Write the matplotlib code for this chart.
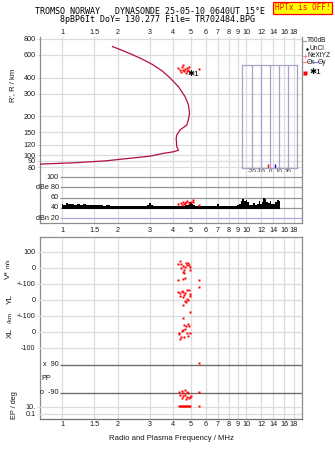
import numpy as np
import matplotlib
matplotlib.use('Agg')
import matplotlib.pyplot as plt
from matplotlib.ticker import NullLocator

plt.rcParams['font.family'] = ['Liberation Sans', 'DejaVu Sans']

W, H = 335, 451
GRID = '#dcdcdc'
SPINE = '#8c8c8c'
ECHO = '#ff0000'
TXT = '#1a1a1a'

# frequency axis
freq_ticks = [1, 1.5, 2, 3, 4, 5, 6, 7, 8, 9, 10, 12, 14, 16, 18]
freq_labels = ['1', '1.5', '2', '3', '4', '5', '6', '7', '8', '9', '10', '12', '14', '16', '18']

# virtual range trace (MHz, km)
trace_f = [1.88, 2.1, 2.4, 2.7, 3.1, 3.5, 3.85, 4.28, 4.65, 4.85, 4.91, 4.85, 4.75,
           4.37, 4.19, 4.16, 4.19, 4.28, 4.02, 3.54, 3.0, 2.44, 1.71, 1.15, 0.76]
trace_r = [697, 655, 605, 560, 505, 450, 398, 340, 284, 245, 211, 190, 171,
           157, 143, 135, 116, 109, 106, 103, 98, 95, 90, 87, 85]
range_ticks = [80, 90, 100, 120, 150, 200, 300, 400, 600, 800]

# echo range
echo_f = [4.28, 4.37, 4.46, 4.51, 4.54, 4.65, 4.75, 4.79, 4.85, 4.91, 4.95, 4.71, 4.58, 4.40, 5.54]
echo_r = [473, 458, 481, 502, 458, 467, 453, 473, 458, 481, 444, 437, 448, 444, 464]

# noise floor (dB)
noise_f = [1.00, 1.03, 1.06, 1.10, 1.14, 1.18, 1.22, 1.27, 1.32, 1.37, 1.42, 1.48, 1.55,
           1.62, 1.70, 1.78, 1.86, 1.95, 2.05, 2.15, 2.25, 2.40, 2.55, 2.70, 2.85, 2.95,
           3.00, 3.05, 3.20, 3.40, 3.60, 3.80, 4.00, 4.20, 4.50, 4.80, 5.00, 5.10, 5.20,
           5.35, 5.60, 5.90, 6.20, 6.50, 6.80, 7.00, 7.20, 7.60, 8.00, 8.40, 8.70, 9.00,
           9.20, 9.40, 9.60, 9.80, 10.0, 10.2, 10.5, 10.8, 11.0, 11.3, 11.6, 11.8, 12.0,
           12.2, 12.5, 12.7, 12.9, 13.2, 13.5, 13.8, 14.1, 14.4, 14.7, 15.0, 15.2]
noise_db = [48, 46, 49, 47, 48, 46, 47, 46, 48, 46, 46, 45, 46,
            45, 44, 45, 44, 43, 44, 43, 43, 44, 43, 44, 44, 46,
            50, 45, 44, 43, 43, 43, 44, 43, 44, 46, 51, 48, 45,
            43, 43, 43, 44, 43, 43, 47, 43, 43, 44, 43, 44, 45,
            48, 54, 57, 53, 56, 51, 46, 45, 49, 45, 48, 53, 48,
            51, 59, 57, 51, 49, 53, 48, 47, 51, 56, 55, 53]

# echo amplitude
amp_f = [4.28, 4.40, 4.51, 4.58, 4.71, 4.79, 4.91, 4.99, 5.11, 5.14, 4.46, 4.65, 5.56]
amp_db = [47.5, 49, 52, 47, 51, 53, 49, 52, 55, 51, 45.5, 49, 45.5]

# Doppler velocity V* (m/s)
vel_f = [4.37, 4.28, 4.42, 4.51, 4.71, 4.85, 4.79, 4.91, 4.95, 4.65, 4.40, 4.60,
         4.54, 4.58, 4.95, 4.28, 4.54, 4.65, 5.54]
vel_v = [46, 25, 25, 12, 33, 29, 19, 19, 8, 8, -2, -12,
         -23, -33, -12, -75, -71, -65, -75]

# echolocation YL, XL (km)
yl_f = [4.28, 4.37, 4.46, 4.54, 4.75, 4.89, 4.65, 4.95, 4.95, 4.58, 4.54, 4.37,
        4.65, 4.75, 4.85, 4.71, 4.51, 4.95, 5.54]
yl_v = [52, 46, 58, 52, 62, 62, 42, 35, 25, 31, 17, 25,
        -4, 4, 0, -10, -31, -73, 83]
xl_f = [4.51, 4.58, 4.71, 4.81, 4.89, 4.54, 4.46, 4.65, 4.32, 4.32, 4.42, 4.58,
        4.75, 4.95, 4.85, 4.37]
xl_v = [90, 44, 38, 50, 38, 12, 8, 17, -4, -15, -29, -33,
        -4, -4, -23, -46]

# polarization (deg)
pp_f = [4.32, 4.46, 4.54, 4.65, 4.75, 4.85, 4.37, 4.51, 4.65, 4.79, 4.95, 4.46,
        4.71, 4.91, 4.99, 5.54, 5.54]
pp_v = [-82, -75, -88, -71, -82, -92, -103, -109, -103, -118, -114, -124,
        -129, -122, -109, -82, 105]

# EP (deg)
ep_f = [4.32, 4.37, 4.42, 4.46, 4.51, 4.58, 4.65, 4.71, 4.79, 4.85, 4.91, 4.97, 5.54]
ep_v = [18, 22, 16, 20, 25, 17, 19, 21, 16, 23, 18, 20, 20]

# tilt indicators (deg)
tilt_x = -2
tilt_y = 5.5
tilt_ticks = [-20, -10, 0, 10, 20]

fig = plt.figure(figsize=(W / 100, H / 100), dpi=100)


def px_axes(x0, y0, x1, y1, **kw):
    return fig.add_axes([x0 / W, 1 - y1 / H, (x1 - x0) / W, (y1 - y0) / H], **kw)


def freq_axis(ax, grid=True):
    ax.set_xscale('log')
    ax.set_xlim(0.76, 20)
    ax.xaxis.set_minor_locator(NullLocator())
    ax.set_xticks(freq_ticks)
    ax.set_xticklabels(freq_labels)
    if grid:
        for f in freq_ticks:
            ax.axvline(f, color=GRID, lw=0.9, zorder=0)
    for s in ax.spines.values():
        s.set_color(SPINE)
        s.set_linewidth(0.9)
    ax.tick_params(axis='x', length=0, labelsize=5.2, colors=TXT)


def overlay(ax):
    ax.patch.set_alpha(0)
    ax.set_xscale('log')
    ax.set_xlim(0.76, 20)
    for s in ax.spines.values():
        s.set_visible(False)
    ax.tick_params(axis='x', which='both', bottom=False, labelbottom=False)
    ax.tick_params(axis='y', which='both', length=2.2, width=0.7, color=GRID,
                   labelsize=5.2, pad=1, labelcolor=TXT)


def dot(ax, x, y):
    ax.plot(x, y, 's', ms=1.9, mec='none', color=ECHO, zorder=4)


# --- range panel ---
ax_r = px_axes(40, 37, 302, 172)
freq_axis(ax_r)
ax_r.xaxis.tick_top()
ax_r.tick_params(axis='x', pad=0.5)
ax_r.spines['top'].set_visible(False)
ax_r.spines['bottom'].set_visible(False)
ax_r.set_yscale('log')
ax_r.set_ylim(73.8, 828)
ax_r.yaxis.set_minor_locator(NullLocator())
ax_r.set_yticks(range_ticks)
ax_r.set_yticklabels([str(v) for v in range_ticks])
ax_r.tick_params(axis='y', length=2.2, width=0.7, color=GRID, labelsize=5.2, pad=1,
                 labelcolor=TXT)
for r in range_ticks:
    ax_r.axhline(r, color=GRID, lw=0.9, zorder=0)
ax_r.plot(trace_f, trace_r, color='#b0103c', lw=0.9, zorder=3)
dot(ax_r, echo_f, echo_r)
ax_r.text(4.8, 425, '\u27311', fontsize=6, color='black', ha='left', va='center', zorder=5)

# tilt inset
ax_t = px_axes(242, 65, 297, 168)
ax_t.patch.set_alpha(0)
ax_t.set_xlim(-31, 30)
ax_t.set_ylim(0, 1)
ax_t.set_yticks([])
for s in ax_t.spines.values():
    s.set_color('#a4a4c4')
    s.set_linewidth(0.9)
for t in tilt_ticks:
    ax_t.axvline(t, color='#a4a4c4', lw=0.9)
ax_t.set_xticks(tilt_ticks)
ax_t.set_xticklabels([str(t) for t in tilt_ticks])
ax_t.tick_params(axis='x', length=0, labelsize=4.3, pad=0.5, colors=TXT)
ax_t.set_xlabel('Tilt / deg', fontsize=4.3, labelpad=-0.5, color=TXT)
ax_t.vlines([tilt_x], 0, 0.035, color='#ff0000', lw=1.0)
ax_t.vlines([tilt_y], 0, 0.035, color='#0000ff', lw=1.0)

# --- amplitude panel ---
ax_d = px_axes(40, 172, 302, 223)
freq_axis(ax_d)
ax_d.tick_params(axis='x', pad=3)
ax_d.spines['top'].set_visible(False)
ax_d.set_ylim(10.2, 110.4)
ax_d.set_yticks([])
db_lines = [100, 80, 60, 40, 20]
db_labels = ['100', 'dBe 80', '60', '40', 'dBn 20']
for v, lab in zip(db_lines, db_labels):
    ax_d.hlines(v, 0.975, 20, color='#a8a8e0' if v == 20 else '#959595', lw=0.9, zorder=1)
    ax_d.text(0.963, v, lab, fontsize=5.2, ha='right', va='center', color=TXT)
ax_d.fill_between(noise_f, 38.5, noise_db, step='mid', color='black', lw=0, zorder=2)
dot(ax_d, amp_f, amp_db)

# --- lower panel ---
ax_l = px_axes(40, 237, 302, 419)
freq_axis(ax_l)
ax_l.tick_params(axis='x', pad=1.2)
ax_l.set_ylim(0, 1)
ax_l.set_yticks([])
ax_l.spines['bottom'].set_color('#707070')

ax_v = px_axes(40, 244, 302, 292)
overlay(ax_v)
ax_v.set_ylim(-150, 150)
ax_v.set_yticks([100, 0, -100])
ax_v.set_yticklabels(['100', '0', '+-100'])
for v in [100, 0, -100]:
    ax_v.axhline(v, color=GRID, lw=0.9, zorder=0)
dot(ax_v, vel_f, vel_v)

ax_y = px_axes(40, 276, 302, 324)
overlay(ax_y)
ax_y.set_ylim(-150, 150)
ax_y.set_yticks([0, -100])
ax_y.set_yticklabels(['0', '+-100'])
for v in [0, -100]:
    ax_y.axhline(v, color=GRID, lw=0.9, zorder=0)
dot(ax_y, yl_f, yl_v)

ax_x = px_axes(40, 308, 302, 356)
overlay(ax_x)
ax_x.set_ylim(-150, 150)
ax_x.set_yticks([0, -100])
ax_x.set_yticklabels(['0', '-100'])
for v in [0, -100]:
    ax_x.axhline(v, color=GRID, lw=0.9, zorder=0)
dot(ax_x, xl_f, xl_v)

ax_p = px_axes(40, 358, 302, 400)
overlay(ax_p)
ax_p.set_ylim(-135, 135)
ax_p.set_yticks([])
for v, lab in [(90, 'x  90'), (-90, 'o  -90')]:
    ax_p.hlines(v, 0.975, 20, color='#6e6e6e', lw=1.0, zorder=1)
    ax_p.text(0.963, v, lab, fontsize=5.2, ha='right', va='center', color=TXT)
ax_p.text(0.025, 0, 'PP', transform=ax_p.get_yaxis_transform(), fontsize=5.2,
          ha='center', va='center', color=TXT)
dot(ax_p, pp_f, pp_v)

ax_e = px_axes(40, 400, 302, 419)
overlay(ax_e)
ax_e.set_yscale('log')
ax_e.set_ylim(0.0037, 1000)
ax_e.yaxis.set_minor_locator(NullLocator())
ax_e.set_yticks([10, 0.1])
ax_e.set_yticklabels(['10.', '0.1'])
ax_e.tick_params(axis='y', which='both', length=2.2, width=0.7, color=GRID,
                 labelsize=5.2, pad=1, labelcolor=TXT)
for v in [10, 0.1]:
    ax_e.axhline(v, color=GRID, lw=0.9, zorder=0)
dot(ax_e, ep_f, ep_v)

# --- axis titles ---
def ftext(x, y, s, **kw):
    kw.setdefault('color', TXT)
    fig.text(x / W, 1 - y / H, s, ha='center', va='center', **kw)


ftext(13, 85, "R', R / km", rotation=90, fontsize=5.5)
ftext(8, 275, 'V*', rotation=90, fontsize=6)
ftext(8, 263, 'm/s', rotation=90, fontsize=4.3)
ftext(10, 299, 'YL', rotation=90, fontsize=6)
ftext(10, 318, '/km', rotation=90, fontsize=4.5)
ftext(10, 333, 'XL', rotation=90, fontsize=6)
ftext(14, 405, 'EP / deg', rotation=90, fontsize=5.3)
ftext(171, 439, 'Radio and Plasma Frequency / MHz', fontsize=5.6)

ftext(150, 12, 'TROMSO NORWAY   DYNASONDE 25-05-10 0640UT 15\u00b0E',
      family='DejaVu Sans Mono', fontsize=6.0, color='black')
ftext(157, 20, '8pBP6It DoY= 130.277 File= TR702484.BPG',
      family='DejaVu Sans Mono', fontsize=6.0, color='black')
ftext(302.5, 8, 'HPTx is OFF!', family='DejaVu Sans Mono', fontsize=5.6, color='#ff0000',
      bbox=dict(boxstyle='square,pad=0.25', facecolor='#ffff00', edgecolor='#ff0000', lw=0.9))

# --- legend keys ---
ax_k = px_axes(300, 35, 335, 80)
ax_k.set_xlim(300, 335)
ax_k.set_ylim(80, 35)
ax_k.axis('off')
ax_k.plot([302.5, 306], [41, 41], color='#a0a0a0', lw=0.9)
ax_k.text(306.5, 41, 'T60dB', fontsize=4.8, va='center', color=TXT)
ax_k.plot([306.5], [48.7], 'o', ms=0.8, color='black')
ax_k.text(310, 48.7, 'UnCl', fontsize=4.8, va='center', color=TXT)
ax_k.plot([305], [55.7], '+', ms=3, mew=0.7, color='#ff7aa0')
ax_k.text(308, 55.7, 'NeXtYZ', fontsize=4.8, va='center', color=TXT)
ax_k.plot([303, 306.5], [62.3, 62.3], color='#ff8080', lw=0.9)
ax_k.text(306.7, 62.3, '\u0398x', fontsize=4.8, va='center', color=TXT)
ax_k.plot([314, 317.5], [62.3, 62.3], color='#8080ff', lw=0.9)
ax_k.text(317.8, 62.3, '\u0398y', fontsize=4.8, va='center', color=TXT)
ax_k.plot([305], [72.7], 's', ms=2.2, mec='none', color=ECHO)
ax_k.text(309.5, 72.7, '\u27311', fontsize=6, va='center', color='black')

fig.savefig('out.png', dpi=100)
